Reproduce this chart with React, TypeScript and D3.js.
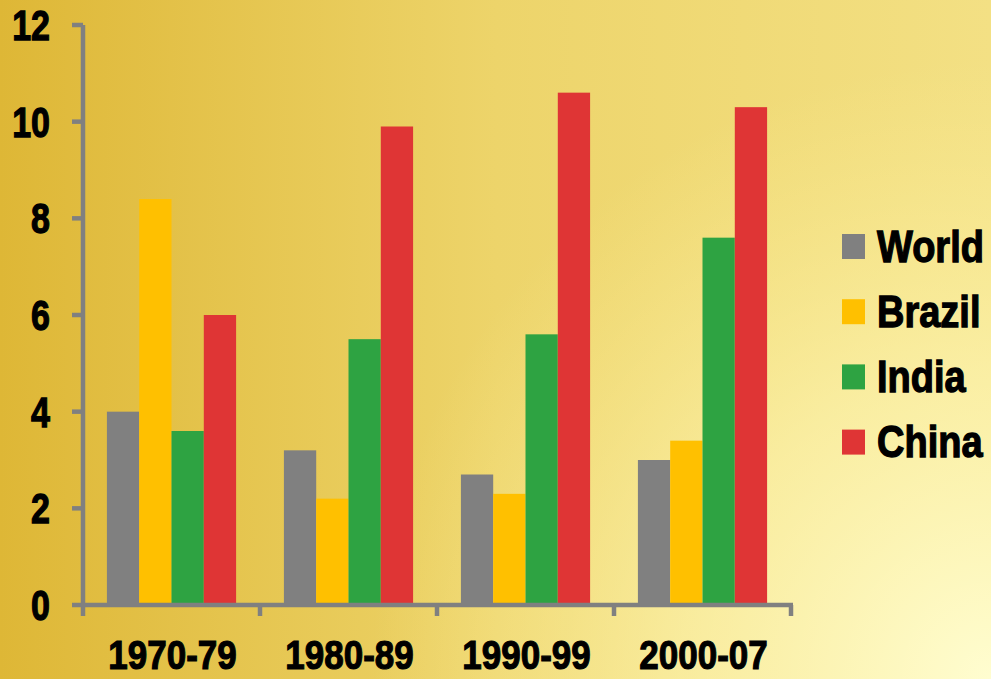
import React from "react";
import * as d3 from "d3";

const categories = ["1970-79", "1980-89", "1990-99", "2000-07"];
const series = ["World", "Brazil", "India", "China"];
const worldValues = [4.0, 3.2, 2.7, 3.0];
const brazilValues = [8.4, 2.2, 2.3, 3.4];
const indiaValues = [3.6, 5.5, 5.6, 7.6];
const chinaValues = [6.0, 9.9, 10.6, 10.3];
const yTicks = [0, 2, 4, 6, 8, 10, 12];
const colors = ["#808080", "#FFC000", "#2EA342", "#DF3535"];

const W = 991;
const H = 679;

export default function App() {
  const values = [worldValues, brazilValues, indiaValues, chinaValues];
  const x = d3.scaleBand<string>().domain(categories).range([83, 791]).paddingInner(0).paddingOuter(0);
  const xs = d3.scaleBand<string>().domain(series).range([0, x.bandwidth()]).paddingInner(0).paddingOuter(0.74);
  const y = d3.scaleLinear().domain([0, 12]).range([605, 25]);
  const axisColor = "#808080";
  const font = "'Liberation Sans', Arial, sans-serif";
  const sY = 1.25;
  const boundaries = categories.map((c) => x(c) as number).concat([791]);

  return (
    <div style={{ position: "fixed", left: 0, top: 0, width: W, height: H }}>
      <svg width={W} height={H} style={{ display: "block" }}>
        <defs>
          <linearGradient id="bg" x1="0" y1="0" x2="1" y2="0">
            <stop offset="0" stopColor="#DEB736" />
            <stop offset="0.5" stopColor="#EDD46A" />
            <stop offset="1" stopColor="#F3E084" />
          </linearGradient>
          <radialGradient id="hl" cx={W} cy={H} r={620} gradientUnits="userSpaceOnUse">
            <stop offset="0" stopColor="#FFFDD0" stopOpacity="1" />
            <stop offset="0.5" stopColor="#FFF8B8" stopOpacity="0.6" />
            <stop offset="1" stopColor="#FFF3A0" stopOpacity="0" />
          </radialGradient>
        </defs>
        <rect x={0} y={0} width={W} height={H} fill="url(#bg)" />
        <rect x={0} y={0} width={W} height={H} fill="url(#hl)" />

        {categories.map((c, ci) => (
          <g key={c}>
            {series.map((s, si) => (
              <rect
                key={s}
                x={(x(c) as number) + (xs(s) as number)}
                y={y(values[si][ci])}
                width={xs.bandwidth()}
                height={y(0) - y(values[si][ci])}
                fill={colors[si]}
              />
            ))}
          </g>
        ))}

        {/* Y axis */}
        <line x1={83} x2={83} y1={y(12)} y2={y(0) + 2} stroke={axisColor} strokeWidth={4.5} />
        {yTicks.map((t) => (
          <g key={t}>
            <line x1={72} x2={83} y1={y(t)} y2={y(t)} stroke={axisColor} strokeWidth={4.5} />
            <text
              transform={`translate(50, ${y(t) + 15}) scale(1, ${sY})`}
              textAnchor="end"
              fontFamily={font}
              fontWeight="bold"
              fontSize={34}
              fill="#000"
              stroke="#000"
              strokeWidth={1}
            >
              {t}
            </text>
          </g>
        ))}

        {/* X axis */}
        <line x1={81} x2={793} y1={y(0)} y2={y(0)} stroke={axisColor} strokeWidth={4.5} />
        {boundaries.map((b, i) => (
          <line key={i} x1={b} x2={b} y1={y(0)} y2={y(0) + 11} stroke={axisColor} strokeWidth={4.5} />
        ))}
        {categories.map((c) => (
          <text
            key={c}
            transform={`translate(${(x(c) as number) + x.bandwidth() / 2 + 1}, 669) scale(1, 1.18)`}
            textAnchor="middle"
            fontFamily={font}
            fontWeight="bold"
            fontSize={35}
            fill="#000"
            stroke="#000"
            strokeWidth={1}
          >
            {c}
          </text>
        ))}

        {/* Legend */}
        {series.map((s, i) => {
          const cy = 246.5 + i * 65.2;
          return (
            <g key={s}>
              <rect x={842} y={cy - 12.5} width={23} height={25} fill={colors[i]} />
              <text
                transform={`translate(877, ${cy + 15}) scale(1, 1.18)`}
                fontFamily={font}
                fontWeight="bold"
                fontSize={38}
                fill="#000"
                stroke="#000"
                strokeWidth={1.1}
              >
                {s}
              </text>
            </g>
          );
        })}
      </svg>
    </div>
  );
}
